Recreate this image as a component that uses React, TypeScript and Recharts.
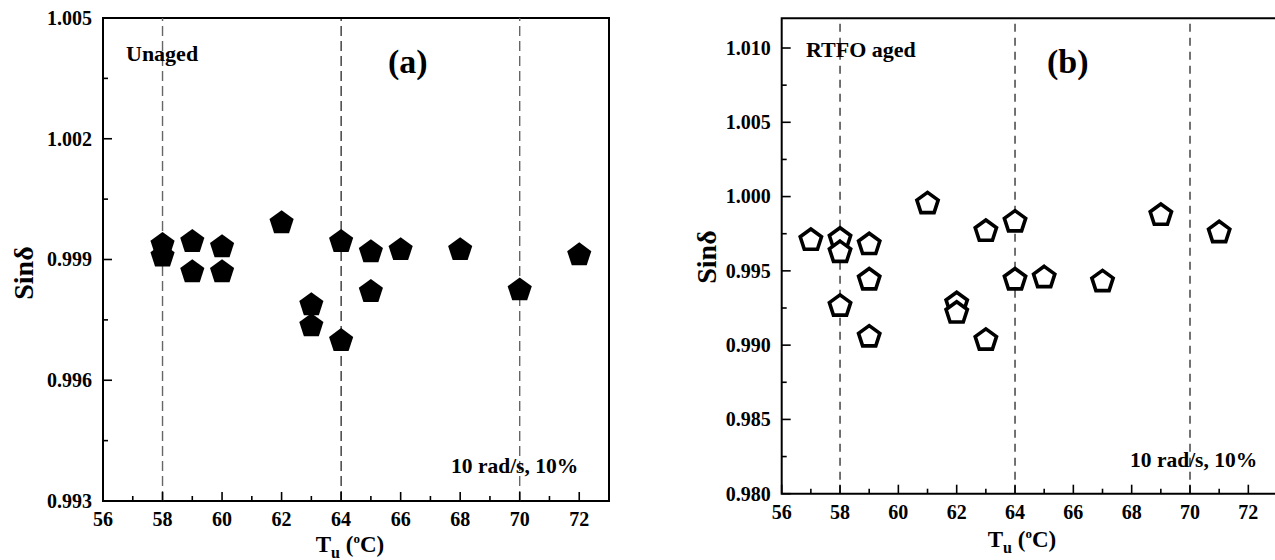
import React from 'react';
import { ScatterChart, Scatter, XAxis, YAxis, ReferenceLine, ReferenceArea } from 'recharts';

// ---------- data ----------
const xMajorTicks = [56, 58, 60, 62, 64, 66, 68, 70, 72];
const xMinorTicks = [57, 59, 61, 63, 65, 67, 69, 71];
const guideTemps = [58, 64, 70];

const leftYMajor = [0.993, 0.996, 0.999, 1.002, 1.005];
const leftYMinor = [0.9945, 0.9975, 1.0005, 1.0035];
const rightYMajor = [0.98, 0.985, 0.99, 0.995, 1.0, 1.005, 1.01];
const rightYMinor = [0.9825, 0.9875, 0.9925, 0.9975, 1.0025, 1.0075];

const unagedTemps = [58, 58, 59, 59, 60, 60, 62, 63, 63, 64, 64, 65, 65, 66, 68, 70, 72];
const unagedSin = [0.99937, 0.99908, 0.99944, 0.99869, 0.99931, 0.99869, 0.99991, 0.99787, 0.99735, 0.99944, 0.99698, 0.99919, 0.9982, 0.99924, 0.99924, 0.99824, 0.99911];

const rtfoTemps = [57, 58, 58, 58, 59, 59, 59, 61, 62, 62, 63, 63, 64, 64, 65, 67, 69, 71];
const rtfoSin = [0.99706, 0.99715, 0.99625, 0.99263, 0.99678, 0.9944, 0.99056, 0.99953, 0.99281, 0.99217, 0.99767, 0.99034, 0.9983, 0.9944, 0.99455, 0.99428, 0.99875, 0.99758];

const unagedData = unagedTemps.map((t, i) => ({ x: t, y: unagedSin[i] }));
const rtfoData = rtfoTemps.map((t, i) => ({ x: t, y: rtfoSin[i] }));

// ---------- styles ----------
const FONT = "'Liberation Serif', 'Times New Roman', serif";

const isIn = (arr: number[], v: number) => arr.some((a) => Math.abs(a - v) < 1e-9);

const makeXTick = (major: number[]) => (props: any) => {
  const { x, y, payload } = props;
  const m = isIn(major, payload.value);
  return (
    <g>
      <line x1={x} x2={x} y1={y} y2={y - (m ? 9 : 5)} stroke="#000" strokeWidth={1.6} />
      {m && (
        <text x={x} y={y + 25} textAnchor="middle" fontFamily={FONT} fontWeight="bold" fontSize={20} fill="#000">
          {payload.value}
        </text>
      )}
    </g>
  );
};

const makeYTick = (major: number[]) => (props: any) => {
  const { x, y, payload } = props;
  const m = isIn(major, payload.value);
  return (
    <g>
      <line x1={x} x2={x + (m ? 9 : 5)} y1={y} y2={y} stroke="#000" strokeWidth={1.6} />
      {m && (
        <text x={x - 11} y={y + 6.8} textAnchor="end" fontFamily={FONT} fontWeight="bold" fontSize={20} fill="#000">
          {Number(payload.value).toFixed(3)}
        </text>
      )}
    </g>
  );
};

function pentagonPoints(cx: number, cy: number, r: number) {
  const pts: string[] = [];
  for (let i = 0; i < 5; i++) {
    const a = -Math.PI / 2 + (i * 2 * Math.PI) / 5;
    pts.push(`${cx + r * Math.cos(a)},${cy + r * Math.sin(a)}`);
  }
  return pts.join(' ');
}

const FilledPentagon = (props: any) => (
  <polygon points={pentagonPoints(props.cx, props.cy, 12.7)} fill="#000" />
);
const OpenPentagon = (props: any) => (
  <polygon points={pentagonPoints(props.cx, props.cy, 11.2)} fill="#fff" stroke="#000" strokeWidth={3.6} strokeLinejoin="miter" />
);

const xTicks = [...xMajorTicks, ...xMinorTicks].sort((a, b) => a - b);
const leftYTicks = [...leftYMajor, ...leftYMinor].sort((a, b) => a - b);
const rightYTicks = [...rightYMajor, ...rightYMinor].sort((a, b) => a - b);

const XTitle = ({ cx, y }: { cx: number; y: number }) => (
  <text x={cx} y={y} textAnchor="middle" fontFamily={FONT} fontWeight="bold" fontSize={23} fill="#000">
    T<tspan fontSize={16} dy={6}>u</tspan>
    <tspan dy={-6}> (</tspan>
    <tspan fontSize={13} dy={-9}>o</tspan>
    <tspan dy={9}>C)</tspan>
  </text>
);

const YTitle = ({ x, cy }: { x: number; cy: number }) => (
  <text x={x} y={cy} transform={`rotate(-90 ${x} ${cy})`} textAnchor="middle" fontFamily={FONT} fontWeight="bold" fontSize={28} fill="#000">
    Sinδ
  </text>
);

export default function App() {
  return (
    <div style={{ position: 'fixed', left: 0, top: 0, width: 1275, height: 560, overflow: 'hidden', background: '#fff' }}>
      <div style={{ position: 'absolute', left: 0, top: 0 }}>
        <ScatterChart width={640} height={560} margin={{ top: 18, right: 31, bottom: 29, left: 43 }}>
          <XAxis
            type="number"
            dataKey="x"
            domain={[56, 73]}
            allowDataOverflow
            ticks={xTicks}
            interval={0}
            tickSize={0}
            tickMargin={0}
            axisLine={false}
            tickLine={false}
            height={30}
            tick={makeXTick(xMajorTicks)}
          />
          <YAxis
            type="number"
            dataKey="y"
            domain={[0.993, 1.005]}
            allowDataOverflow
            ticks={leftYTicks}
            interval={0}
            tickSize={0}
            tickMargin={0}
            axisLine={false}
            tickLine={false}
            width={60}
            tick={makeYTick(leftYMajor)}
          />
          {guideTemps.map((t) => (
            <ReferenceLine
              key={t}
              x={t}
              stroke={t === 64 ? '#000' : '#666'}
              strokeWidth={t === 64 ? 1.1 : 1.4}
              strokeDasharray="10 5"
            />
          ))}
          <Scatter data={unagedData} isAnimationActive={false} shape={FilledPentagon} />
          <ReferenceArea x1={56} x2={73} y1={0.993} y2={1.005} fill="none" stroke="#000" strokeWidth={2} />
        </ScatterChart>
      </div>
      <div style={{ position: 'absolute', left: 640, top: 0 }}>
        <ScatterChart width={660} height={560} margin={{ top: 18.3, right: 22.5, bottom: 36.3, left: 81.7 }}>
          <XAxis
            type="number"
            dataKey="x"
            domain={[56, 73]}
            allowDataOverflow
            ticks={xTicks}
            interval={0}
            tickSize={0}
            tickMargin={0}
            axisLine={false}
            tickLine={false}
            height={30}
            tick={makeXTick(xMajorTicks)}
          />
          <YAxis
            type="number"
            dataKey="y"
            domain={[0.98, 1.012]}
            allowDataOverflow
            ticks={rightYTicks}
            interval={0}
            tickSize={0}
            tickMargin={0}
            axisLine={false}
            tickLine={false}
            width={60}
            tick={makeYTick(rightYMajor)}
          />
          {guideTemps.map((t) => (
            <ReferenceLine key={t} x={t} stroke="#000" strokeWidth={1.1} strokeDasharray="8 6" />
          ))}
          <Scatter data={rtfoData} isAnimationActive={false} shape={OpenPentagon} />
          <ReferenceArea x1={56} x2={73} y1={0.98} y2={1.012} fill="none" stroke="#000" strokeWidth={2} />
        </ScatterChart>
      </div>
      <svg width={1275} height={560} style={{ position: 'absolute', left: 0, top: 0, pointerEvents: 'none' }}>
        <text x={126} y={60.5} fontFamily={FONT} fontWeight="bold" fontSize={22} fill="#000">Unaged</text>
        <text x={388} y={73} fontFamily={FONT} fontWeight="bold" fontSize={34} fill="#000">(a)</text>
        <text x={451} y={472.5} fontFamily={FONT} fontWeight="bold" fontSize={21.5} fill="#000">10 rad/s, 10%</text>
        <YTitle x={33} cy={273} />
        <XTitle cx={350} y={552} />

        <text x={806} y={56.5} fontFamily={FONT} fontWeight="bold" fontSize={22} fill="#000">RTFO aged</text>
        <text x={1047} y={73} fontFamily={FONT} fontWeight="bold" fontSize={34} fill="#000">(b)</text>
        <text x={1130} y={466.5} fontFamily={FONT} fontWeight="bold" fontSize={21.5} fill="#000">10 rad/s, 10%</text>
        <YTitle x={716} cy={257} />
        <XTitle cx={1022} y={547} />
      </svg>
    </div>
  );
}
